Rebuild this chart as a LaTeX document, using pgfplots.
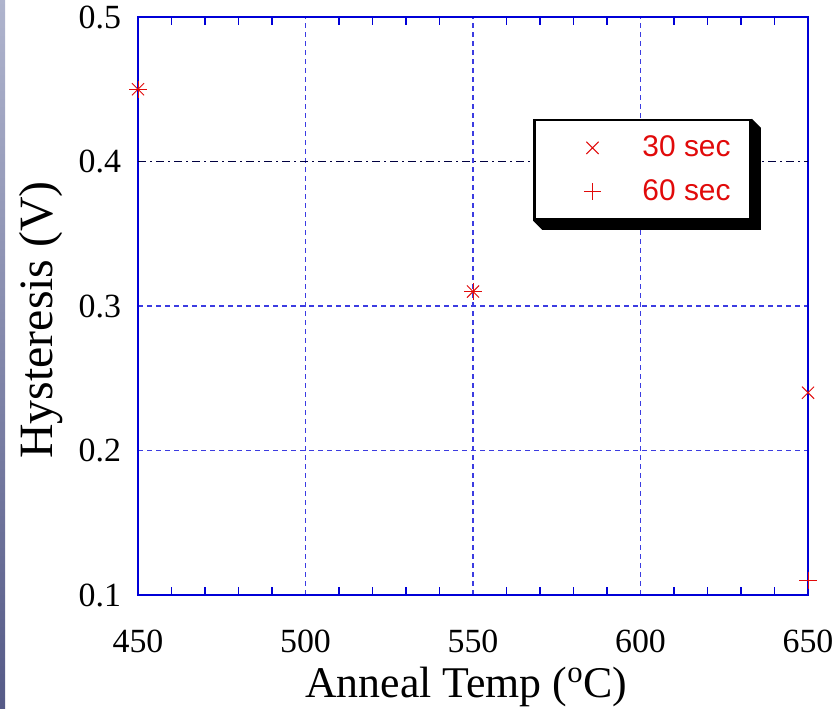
\documentclass[border=0pt]{standalone}
\usepackage{pgfplots}
\pgfplotsset{compat=1.18}
\usepackage{fontspec}
\setmainfont{Liberation Serif}
\newfontfamily\legfont{Liberation Sans}
\definecolor{axblue}{RGB}{0,0,215}
\definecolor{gridblue}{RGB}{60,60,225}
\definecolor{mred}{RGB}{225,10,10}
\definecolor{stripT}{RGB}{175,180,205}
\definecolor{stripB}{RGB}{85,90,135}
\begin{document}
\begin{tikzpicture}
\useasboundingbox (0,0) rectangle (418.5bp,354.5bp);
\shade[top color=stripT, bottom color=stripB] (0,0) rectangle (2.5bp,354.5bp);
\begin{axis}[
  at={(69bp,57bp)}, anchor=south west,
  width=335bp, height=289bp, scale only axis,
  xmin=450, xmax=650, ymin=0.1, ymax=0.5,
  xtick={450,500,550,600,650},
  ytick={0.1,0.2,0.3,0.5},
  extra y ticks={0.4},
  extra y tick style={grid=major, major grid style={color=black!75!blue, dash pattern=on 4bp off 2bp on 1bp off 2bp, line width=0.5pt}},
  extra y tick labels={0.4},
  minor x tick num=4, minor y tick num=4,
  tick align=inside,
  major tick length=0bp, minor tick length=4bp,
  xmajorgrids, ymajorgrids,
  major grid style={color=gridblue, dash pattern=on 2.5bp off 2bp, line width=0.6pt},
  axis line style={color=axblue, line width=0.8pt},
  every tick/.style={color=gridblue, line width=0.6pt},
  every minor tick/.style={color=axblue, line width=0.6pt},
  tick label style={font=\fontsize{17}{19}\selectfont},
  /pgf/number format/assume math mode=true,
  xticklabel style={yshift=-14bp},
  yticklabel style={xshift=-5bp},
  yticklabel={\pgfmathprintnumber[fixed,precision=1,fixed zerofill]{\tick}},
  xticklabel={\pgfmathprintnumber[fixed,precision=0]{\tick}},
  xlabel={Anneal Temp (\textsuperscript{o}C)},
  ylabel={Hysteresis (V)},
  xlabel style={font=\fontsize{22}{24}\selectfont, at={(axis description cs:0.49,-0.178)}, anchor=base},
  ylabel style={font=\fontsize{24}{26}\selectfont, at={(axis description cs:-0.128,0.476)}, anchor=base, rotate=0},
  clip=false,
  legend style={name=leg, at={(axis description cs:0.590,0.824)}, anchor=north west,
    draw=black, line width=1.2pt, fill=white,
    inner xsep=8bp, inner ysep=6bp, row sep=6bp, column sep=8bp,
    font=\legfont\fontsize{15}{17}\selectfont, text=mred,
    nodes={inner sep=2bp}},
  legend cell align=left,
  legend image code/.code={\path[draw=none] (0bp,-5bp) rectangle (36bp,5bp); \draw[#1] plot[only marks] coordinates {(21bp,0bp)};},
]
\addplot[only marks, mark=x, mark size=4.3bp, color=mred, line width=0.5pt] coordinates {(450,0.45) (550,0.31) (650,0.24)};
\addlegendentry{30 sec}
\addplot[only marks, mark=+, mark size=4.3bp, color=mred, line width=0.5pt] coordinates {(450,0.45) (550,0.31) (650,0.11)};
\addlegendentry{60 sec}
\end{axis}
\fill[black] (leg.north east) -- ([xshift=4.5bp,yshift=-4.5bp]leg.north east)
  -- ([xshift=4.5bp,yshift=-4.5bp]leg.south east) -- ([xshift=4.5bp,yshift=-4.5bp]leg.south west)
  -- (leg.south west) -- (leg.south east) -- cycle;
\end{tikzpicture}
\end{document}
